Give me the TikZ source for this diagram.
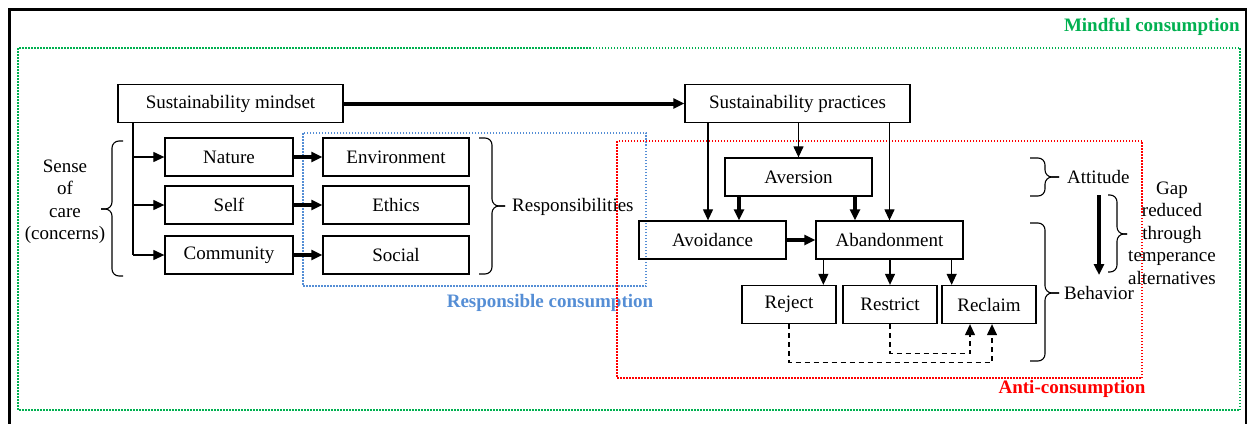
\documentclass[tikz,border=0pt]{standalone}
\usepackage{fontspec}
\setmainfont{Liberation Serif}
\usepackage{tikz}
\usetikzlibrary{arrows.meta}
\definecolor{mindgreen}{RGB}{0,176,80}
\definecolor{respblue}{RGB}{85,142,213}
\definecolor{antired}{RGB}{255,0,0}
\newcommand{\figfont}{\fontsize{19}{22.5}\selectfont}
\newcommand{\newBox}[4]{\node[block,minimum width=#4](#1) at (#3) {#2};}
\newcommand{\newArrow}[3]{\draw[#3] (#1) -- (#2);}
% brace: x of ends, x of body, x of tip, y of top, y of tip, y of bottom
\newcommand{\newBrace}[6]{\draw[curly] (#1,#4) -- (#2,#4) -- (#2,#5) -- (#3,#5);
  \draw[curly] (#1,#6) -- (#2,#6) -- (#2,#5) -- (#3,#5);}

\begin{document}
\begin{tikzpicture}[
    % One pt for each pixel, y going down
    x=1pt,y=-1pt,
    % Default arrow tip
    >={Triangle[length=11pt,width=10pt]},
    % Boxes and texts
    block/.style={draw,line width=1.3pt,minimum height=38pt,inner sep=0pt,font=\figfont},
    lab/.style={inner sep=0pt,align=center,font=\figfont},
    title/.style={inner sep=0pt,font=\figfont\bfseries},
    % Connectors: thin, thick, dashed
    arr/.style={->,line width=1.2pt},
    thickarr/.style={->,line width=4pt},
    dasharr/.style={->,line width=1.2pt,dash pattern=on 5pt off 4pt},
    % Dotted frames and braces
    dots/.style={line width=1.5pt,dash pattern=on 1.5pt off 1.5pt},
    curly/.style={line width=1.1pt,rounded corners=7pt}
    ]

    \useasboundingbox (0,0) rectangle (1247,423);
    \draw[line width=3pt] (9,430) -- (9,9) -- (1246,9) -- (1246,430);

    % frames of the three kinds of consumption
    \draw[mindgreen,dots] (18,48) rectangle (1240,410);
    \node[title,text=mindgreen,anchor=east] (mindful) at (1240,27) {Mindful consumption};
    \draw[respblue,dots] (303,133) rectangle (646,286);
    \node[title,text=respblue] (respcons) at (550,303) {Responsible consumption};
    \draw[antired,dots] (617,141) rectangle (1142,378);
    \node[title,text=antired] (anticons) at (1072,389) {Anti-consumption};

    \newBox{mindset}{Sustainability mindset}{230.5,103.5}{225pt}
    \newBox{prac}{Sustainability practices}{797.5,103.5}{225pt}
    \newBox{nature}{Nature}{229,157}{128pt}
    \newBox{self}{Self}{229,205}{128pt}
    \newBox{comm}{Community}{229,255}{128pt}
    \newBox{env}{Environment}{396,157}{146pt}
    \newBox{ethics}{Ethics}{396,205}{146pt}
    \newBox{social}{Social}{396,255}{146pt}
    \newBox{aver}{Aversion}{798.5,177}{147pt}
    \newBox{avoid}{Avoidance}{712.5,240}{147pt}
    \newBox{aband}{Abandonment}{889.5,240}{147pt}
    \newBox{reject}{Reject}{789,304.5}{94pt}
    \newBox{restrict}{Restrict}{890,304.5}{94pt}
    \newBox{reclaim}{Reclaim}{989,304.5}{94pt}

    % left side
    \newArrow{mindset.east}{prac.west}{thickarr}
    \coordinate (trunk) at (133,122.5);
    \draw[line width=1.2pt] (trunk) -- (trunk |- comm);
    \newArrow{trunk |- nature}{nature.west}{arr}
    \newArrow{trunk |- self}{self.west}{arr}
    \newArrow{trunk |- comm}{comm.west}{arr}
    \newArrow{nature}{env}{thickarr}
    \newArrow{self}{ethics}{thickarr}
    \newArrow{comm}{social}{thickarr}

    % right side
    \coordinate (pa) at ([xshift=-4.5pt]avoid.north);
    \coordinate (va) at ([xshift=26.5pt]avoid.north);
    \coordinate (vb) at ([xshift=-34.5pt]aband.north);
    \coordinate (ra) at ([xshift=8pt]aband.south west);
    \coordinate (rc) at ([xshift=-12pt]aband.south east);
    \newArrow{prac.south -| pa}{pa}{arr}
    \newArrow{prac.south -| aver}{aver.north}{arr}
    \newArrow{prac.south -| aband}{aband.north}{arr}
    \newArrow{aver.south -| va}{va}{thickarr}
    \newArrow{aver.south -| vb}{vb}{thickarr}
    \newArrow{avoid}{aband}{thickarr}
    \newArrow{ra}{ra |- reject.north}{arr}
    \newArrow{aband.south -| restrict}{restrict.north}{arr}
    \newArrow{rc}{rc |- reclaim.north}{arr}
    \coordinate (ca) at ([xshift=-19pt]reclaim.south);
    \coordinate (cb) at ([xshift=3pt]reclaim.south);
    \draw[dasharr] (restrict.south) -- ++(0,29.5) -| (ca);
    \draw[dasharr] (reject.south) -- ++(0,38.5) -| (cb);

    % braces and their texts
    \newBrace{123}{112}{101}{141}{209}{276}
    \node[lab] (care) at (65,201.5) {Sense\\of\\care\\(concerns)};
    \newBrace{479}{492}{505}{138}{206}{274}
    \node[lab,anchor=west] (resp) at (512,207) {Responsibilities};
    \newBrace{1030}{1045}{1059}{158}{177}{196}
    \node[lab,anchor=west] (attitude) at (1067,177) {Attitude};
    \newBrace{1030}{1045}{1059}{223}{293}{361}
    \node[lab,anchor=west] (behavior) at (1064,293) {Behavior};
    \coordinate (gaptop) at (1099,195);
    \coordinate (gapbot) at (1099,275);
    \newArrow{gaptop}{gapbot}{thickarr}
    \newBrace{1108}{1117}{1127}{195}{234}{272}
    \node[lab] (gap) at (1172,233) {Gap\\reduced\\through\\temperance\\alternatives};
  \end{tikzpicture}
\end{document}
